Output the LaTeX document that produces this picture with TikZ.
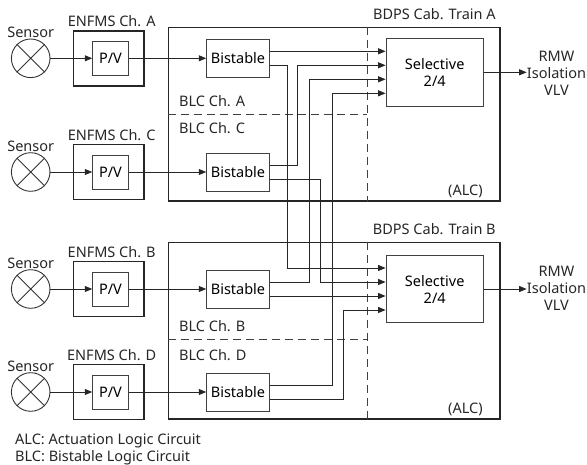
\documentclass[tikz,border=0pt]{standalone}
\usepackage{fontspec}
\setmainfont{Noto Sans}
\usetikzlibrary{arrows.meta, positioning}
\tikzset{
    sensor/.style={circle, draw=black!80, line width=0.9pt, minimum size=38.6pt, inner sep=0pt},
    module/.style={draw=black!85, line width=1.6pt, minimum width=70.7pt, minimum height=55pt, inner sep=0pt},
    pv/.style={draw=black!75, line width=0.9pt, minimum width=35.6pt, minimum height=34pt, inner sep=0pt},
    bistable/.style={draw=black!75, line width=0.9pt, minimum width=62.6pt, minimum height=38pt, inner sep=0pt},
    selective/.style={draw=black!75, line width=0.9pt, minimum width=97.3pt, minimum height=67.4pt, align=center, inner sep=0pt},
    cabinet/.style={draw=black!85, line width=1.6pt, minimum width=331.7pt, inner sep=0pt},
    dashline/.style={draw=black!75, line width=0.9pt, dash pattern=on 8pt off 5pt},
    signal/.style={draw=black!85, line width=0.9pt, ->, >={Triangle[length=7.5pt,width=6pt]}},
    tag/.style={inner sep=0pt, text=black!85}
}

\begin{document}
\begin{tikzpicture}[x=1pt, y=-1pt, font=\fontsize{14.5}{17}\selectfont]
    \useasboundingbox (0,0) rectangle (587,465);

    % -----------------------------------------------------------------
    % CANALI ENFMS E BISTABILI
    % -----------------------------------------------------------------

    % Canale A
    \node (sA) [sensor] at (30.7, 58.3) {};
    \draw[black!80, line width=0.9pt] (sA.north west) -- (sA.south east) (sA.north east) -- (sA.south west);
    \node [tag, anchor=base] at ([yshift=1pt]sA.north) {Sensor};
    \node (enA) [module] at (108.7, 58.3) {};
    \node [tag, anchor=base] at ([xshift=3pt, yshift=3pt]enA.north) {ENFMS Ch. A};
    \node (pvA) [pv] at (110.5, 58.3) {P/V};
    \node (bsA) [bistable] at (238, 58.3) {Bistable};
    \draw[signal] (sA) -- (pvA);
    \draw[signal] (pvA) -- (bsA);

    % Canale C
    \node (sC) [sensor] at (30.7, 172) {};
    \draw[black!80, line width=0.9pt] (sC.north west) -- (sC.south east) (sC.north east) -- (sC.south west);
    \node [tag, anchor=base] at ([yshift=1pt]sC.north) {Sensor};
    \node (enC) [module] at (108.7, 172) {};
    \node [tag, anchor=base] at ([xshift=3pt, yshift=3pt]enC.north) {ENFMS Ch. C};
    \node (pvC) [pv] at (110.5, 172) {P/V};
    \node (bsC) [bistable] at (238, 172) {Bistable};
    \draw[signal] (sC) -- (pvC);
    \draw[signal] (pvC) -- (bsC);

    % Canale B
    \node (sB) [sensor] at (30.7, 289) {};
    \draw[black!80, line width=0.9pt] (sB.north west) -- (sB.south east) (sB.north east) -- (sB.south west);
    \node [tag, anchor=base] at ([yshift=1pt]sB.north) {Sensor};
    \node (enB) [module] at (108.7, 289) {};
    \node [tag, anchor=base] at ([xshift=3pt, yshift=3pt]enB.north) {ENFMS Ch. B};
    \node (pvB) [pv] at (110.5, 289) {P/V};
    \node (bsB) [bistable] at (238, 289) {Bistable};
    \draw[signal] (sB) -- (pvB);
    \draw[signal] (pvB) -- (bsB);

    % Canale D
    \node (sD) [sensor] at (30.7, 392) {};
    \draw[black!80, line width=0.9pt] (sD.north west) -- (sD.south east) (sD.north east) -- (sD.south west);
    \node [tag, anchor=base] at ([yshift=1pt]sD.north) {Sensor};
    \node (enD) [module] at (108.7, 392) {};
    \node [tag, anchor=base] at ([xshift=3pt, yshift=3pt]enD.north) {ENFMS Ch. D};
    \node (pvD) [pv] at (110.5, 392) {P/V};
    \node (bsD) [bistable] at (238, 392) {Bistable};
    \draw[signal] (sD) -- (pvD);
    \draw[signal] (pvD) -- (bsD);

    % Uscite dei bistabili
    \coordinate (bsA1) at ([yshift=7pt]bsA.east);
    \coordinate (bsA2) at ([yshift=-7pt]bsA.east);
    \coordinate (bsC1) at ([yshift=7pt]bsC.east);
    \coordinate (bsC2) at ([yshift=-7pt]bsC.east);
    \coordinate (bsB1) at ([yshift=7pt]bsB.east);
    \coordinate (bsB2) at ([yshift=-7pt]bsB.east);
    \coordinate (bsD1) at ([yshift=7pt]bsD.east);
    \coordinate (bsD2) at ([yshift=-7pt]bsD.east);

    % =================================================================
    % CABINET TRAIN A
    % =================================================================
    \node (cabA) [cabinet, minimum height=173.7pt] at (334.2, 114.2) {};
    \node [tag, anchor=base east] at ([xshift=-5pt, yshift=7.3pt]cabA.north east) {BDPS Cab. Train A};
    \node [tag, anchor=base east] at ([xshift=-18pt, yshift=6pt]cabA.south east) {(ALC)};
    \coordinate (divA) at (367.3, 0);
    \draw[dashline] (divA |- cabA.north) -- (divA |- cabA.south);
    \draw[dashline] (cabA.west |- 0,114.3) -- (divA |- 0,114.3);
    \node [tag, anchor=base west] at (179, 106.7) {BLC Ch. A};
    \node [tag, anchor=base west] at (179, 133.3) {BLC Ch. C};

    \node (selA) [selective] at (434.7, 72.3) {Selective\\2/4};
    \coordinate (selA1) at ([yshift=21pt]selA.west);
    \coordinate (selA2) at ([yshift=7pt]selA.west);
    \coordinate (selA3) at ([yshift=-7pt]selA.west);
    \coordinate (selA4) at ([yshift=-21pt]selA.west);
    \node (vlvA) [tag, align=center] at (556.5, 73) {RMW\\Isolation\\VLV};
    \draw[signal] (selA.east) -- (selA.east -| vlvA.west);

    % =================================================================
    % CABINET TRAIN B
    % =================================================================
    \node (cabB) [cabinet, minimum height=176.7pt] at (334.2, 330.7) {};
    \node [tag, anchor=base east] at ([xshift=-5pt, yshift=7.3pt]cabB.north east) {BDPS Cab. Train B};
    \node [tag, anchor=base east] at ([xshift=-18pt, yshift=6pt]cabB.south east) {(ALC)};
    \coordinate (divB) at (367.3, 0);
    \draw[dashline] (divB |- cabB.north) -- (divB |- cabB.south);
    \draw[dashline] (cabB.west |- 0,339) -- (divB |- 0,339);
    \node [tag, anchor=base west] at (179, 331.7) {BLC Ch. B};
    \node [tag, anchor=base west] at (179, 360) {BLC Ch. D};

    \node (selB) [selective] at (434.7, 289) {Selective\\2/4};
    \coordinate (selB1) at ([yshift=21pt]selB.west);
    \coordinate (selB2) at ([yshift=7pt]selB.west);
    \coordinate (selB3) at ([yshift=-7pt]selB.west);
    \coordinate (selB4) at ([yshift=-21pt]selB.west);
    \node (vlvB) [tag, align=center] at (556.5, 288.5) {RMW\\Isolation\\VLV};
    \draw[signal] (selB.east) -- (selB.east -| vlvB.west);

    % -----------------------------------------------------------------
    % COLLEGAMENTI 2/4
    % -----------------------------------------------------------------
    \draw[signal] (bsA1) -- (selA1);
    \draw[signal] (bsC1) -- ++(28,0) |- (selA2);
    \draw[signal] (bsB1) -- ++(40,0) |- (selA3);
    \draw[signal] (bsD1) -- ++(62.5,0) |- (selA4);

    \draw[signal] (bsA2) -- ++(18,0) |- (selB1);
    \draw[signal] (bsC2) -- ++(51,0) |- (selB2);
    \draw[signal] (bsB2) -- (selB3);
    \draw[signal] (bsD2) -- ++(73.5,0) |- (selB4);

    % Legenda
    \node [tag, anchor=base west] at (15, 444.3) {ALC: Actuation Logic Circuit};
    \node [tag, anchor=base west] at (15, 461.7) {BLC: Bistable Logic Circuit};

\end{tikzpicture}
\end{document}
